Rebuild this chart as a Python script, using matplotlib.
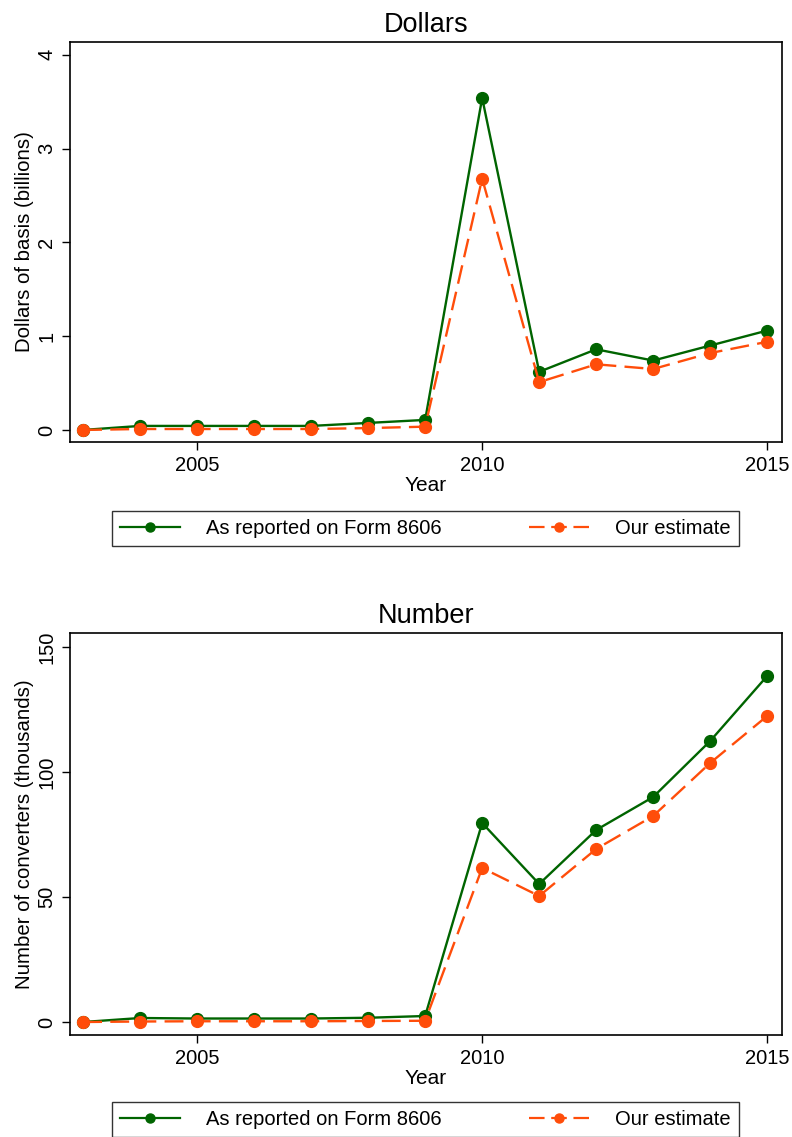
import matplotlib
matplotlib.use("Agg")
import matplotlib.pyplot as plt
from matplotlib.lines import Line2D

plt.rcParams['font.family'] = ['Liberation Sans', 'DejaVu Sans']

years = [2003, 2004, 2005, 2006, 2007, 2008, 2009, 2010, 2011, 2012, 2013, 2014, 2015]

dollars_reported = [0.0, 0.043, 0.043, 0.043, 0.043, 0.075, 0.107, 3.54, 0.62, 0.86, 0.74, 0.90, 1.06]
dollars_estimate = [0.0, 0.01, 0.01, 0.01, 0.01, 0.02, 0.035, 2.68, 0.51, 0.70, 0.65, 0.82, 0.94]

number_reported = [0.0, 1.6, 1.4, 1.4, 1.4, 1.7, 2.4, 79.6, 55.2, 76.8, 90.0, 112.4, 138.4]
number_estimate = [0.0, 0.2, 0.3, 0.3, 0.3, 0.4, 0.5, 61.6, 50.4, 69.2, 82.4, 103.6, 122.4]

x_ticks = [2005, 2010, 2015]
dollars_ticks = [0, 1, 2, 3, 4]
number_ticks = [0, 50, 100, 150]

label_reported = "As reported on Form 8606"
label_estimate = "Our estimate"

GREEN = "#006400"
ORANGE = "#FF4D0A"

fig = plt.figure(figsize=(7.92, 11.37), dpi=100)


def panel(rect, title, ylabel, rep, est, yticks, ylim):
    ax = fig.add_axes(rect)
    ax.plot(years, rep, color=GREEN, lw=1.7, marker='o', ms=8.5, zorder=3)
    ax.plot(years, est, color=ORANGE, lw=1.7, marker='o', ms=8.5,
            dashes=(8, 3.5), zorder=4)
    ax.set_xlim(2002.77, 2015.26)
    ax.set_ylim(*ylim)
    ax.set_xticks(x_ticks)
    ax.set_yticks(yticks)
    ax.set_yticklabels([str(t) for t in yticks], rotation=90, va='center')
    ax.tick_params(direction='out', length=6, width=1, labelsize=14.5, pad=4)
    for s in ax.spines.values():
        s.set_linewidth(1.2)
    ax.set_title(title, fontsize=19.5, pad=7)
    ax.set_xlabel("Year", fontsize=15, labelpad=1)
    ax.set_ylabel(ylabel, fontsize=14.7, labelpad=2)
    return ax


panel([0.0884, 0.6113, 0.899, 0.352], "Dollars", "Dollars of basis (billions)",
      dollars_reported, dollars_estimate, dollars_ticks, (-0.128, 4.14))
panel([0.0884, 0.0897, 0.899, 0.3536], "Number", "Number of converters (thousands)",
      number_reported, number_estimate, number_ticks, (-5.2, 155.6))

handles = [
    Line2D([], [], color=GREEN, lw=1.6, marker='o', ms=6.5),
    Line2D([], [], color=ORANGE, lw=1.6, marker='o', ms=6.5, dashes=(7, 3)),
]


def legend_at(y_center):
    lg = fig.legend(handles, [label_reported, label_estimate], ncol=2,
                    loc='center', bbox_to_anchor=(0.537, y_center),
                    fontsize=14.5, frameon=True, fancybox=False,
                    handlelength=3.0, columnspacing=4.3, handletextpad=1.3,
                    borderpad=0.4, borderaxespad=0)
    fr = lg.get_frame()
    fr.set_edgecolor('black')
    fr.set_linewidth(1.0)


legend_at(1 - 528.5 / 1137)
legend_at(1 - 1119.5 / 1137)

fig.savefig("out.png", dpi=100)
